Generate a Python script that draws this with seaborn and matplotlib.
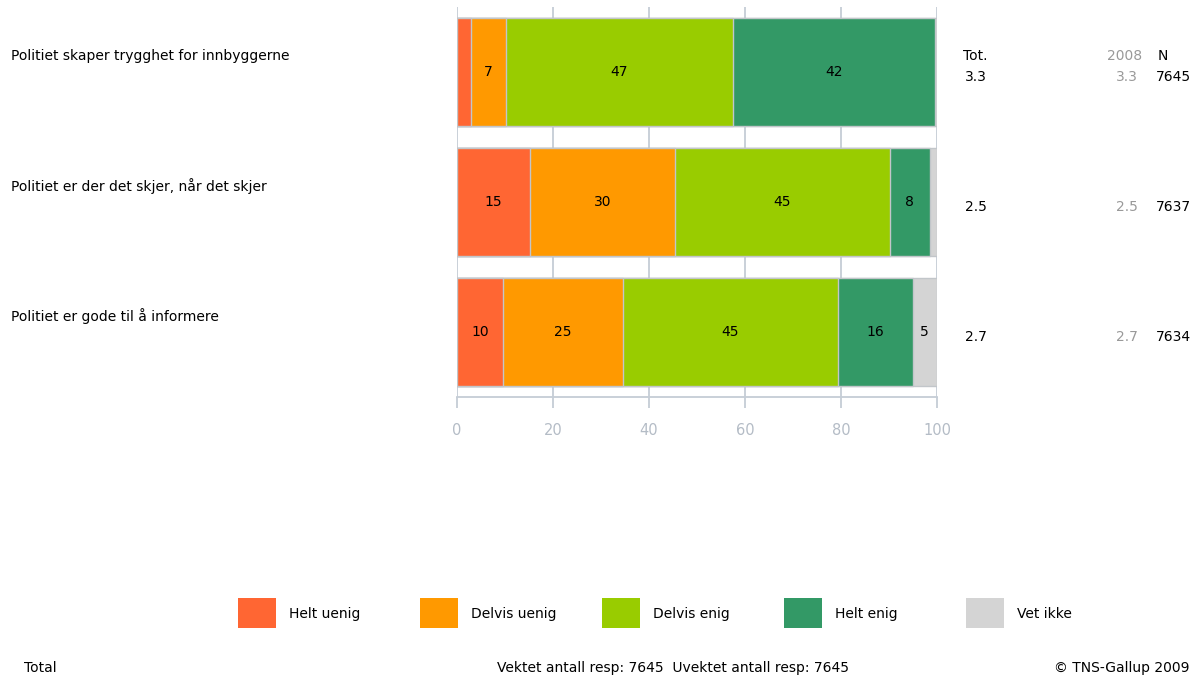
import numpy as np
import pandas as pd
import seaborn as sns
import matplotlib.pyplot as plt
from matplotlib.patches import Rectangle
from matplotlib import transforms

# data
statements = [
    "Politiet skaper trygghet for innbyggerne",
    "Politiet er der det skjer, når det skjer",
    "Politiet er gode til å informere",
]
categories = ["Helt uenig", "Delvis uenig", "Delvis enig", "Helt enig", "Vet ikke"]
helt_uenig = [2.9, 15.2, 9.6]
delvis_uenig = [7.3, 30.2, 25.0]
delvis_enig = [47.3, 44.8, 44.7]
helt_enig = [42.0, 8.3, 15.6]
vet_ikke = [0.5, 1.5, 5.1]
tot = ["3.3", "2.5", "2.7"]
tot_2008 = ["3.3", "2.5", "2.7"]
n_resp = [7645, 7637, 7634]
x_ticks = [0, 20, 40, 60, 80, 100]

colors = ["#ff6633", "#ff9900", "#99cc00", "#339966", "#d4d4d4"]
grid_col = "#c5cdd6"
fs = 10

df = pd.DataFrame({"statement": statements,
                   "Helt uenig": helt_uenig,
                   "Delvis uenig": delvis_uenig,
                   "Delvis enig": delvis_enig,
                   "Helt enig": helt_enig,
                   "Vet ikke": vet_ikke})
cum = df[categories].cumsum(axis=1)

sns.set_style("white")
plt.rcParams["font.family"] = ["DejaVu Sans"]
plt.rcParams["text.color"] = "black"

fig = plt.figure(figsize=(11.99, 6.79), dpi=100)
W, H = 1199, 679
ax = fig.add_axes([457 / W, 1 - 397 / H, 480 / W, 390 / H])

# stacked bars: draw cumulative totals from the back to the front
for cat, col in reversed(list(zip(categories, colors))):
    sns.barplot(x=cum[cat], y=df["statement"], orient="h", color=col,
                saturation=1, width=0.83, edgecolor="#c2c6ca", linewidth=1,
                ax=ax, zorder=2)

# segment labels
for i in range(len(df)):
    for cat in categories:
        v = df.loc[i, cat]
        if v >= 4.5:
            ax.text(cum.loc[i, cat] - v / 2, i, f"{v:.0f}", ha="center",
                    va="center", fontsize=fs, color="black", zorder=3)

ax.set_xlim(0, 100)
ax.set_ylim(2.5, -0.5)
ax.set_xticks(x_ticks)
ax.set_xlabel("")
ax.set_ylabel("")
ax.set_axisbelow(True)
ax.xaxis.grid(True, color=grid_col, lw=1.3)
ax.yaxis.grid(False)
ax.tick_params(axis="y", left=False, labelleft=False)
ax.tick_params(axis="x", bottom=True, length=8, width=1.3, color=grid_col,
               pad=11, labelsize=10.5, labelcolor="#b4bcc6")
for s in ["top", "left", "right"]:
    ax.spines[s].set_visible(False)
ax.spines["bottom"].set_color(grid_col)
ax.spines["bottom"].set_linewidth(1.3)

# statement labels and the numeric columns on the right
tr = transforms.blended_transform_factory(fig.transFigure, ax.transData)
for i, s in enumerate(statements):
    ax.text(11 / W, i - 0.12, s, transform=tr, ha="left", va="center",
            fontsize=fs, color="black")
    ax.text(965 / W, i + 0.04, tot[i], transform=tr, ha="left", va="center",
            fontsize=fs, color="black")
    ax.text(1138 / W, i + 0.04, tot_2008[i], transform=tr, ha="right",
            va="center", fontsize=fs, color="#999999")
    ax.text(1191 / W, i + 0.04, str(n_resp[i]), transform=tr, ha="right",
            va="center", fontsize=fs, color="black")
ax.text(963 / W, -0.12, "Tot.", transform=tr, ha="left", va="center",
        fontsize=fs, color="black")
ax.text(1142 / W, -0.12, "2008", transform=tr, ha="right", va="center",
        fontsize=fs, color="#999999")
ax.text(1163 / W, -0.12, "N", transform=tr, ha="center", va="center",
        fontsize=fs, color="black")

# legend row
for k, (cat, col) in enumerate(zip(categories, colors)):
    x0 = 238 + k * 182
    fig.patches.append(Rectangle((x0 / W, 1 - 628 / H), 38 / W, 30 / H,
                                 transform=fig.transFigure, facecolor=col,
                                 edgecolor="none"))
    fig.text((x0 + 51) / W, 1 - 614 / H, cat, ha="left", va="center",
             fontsize=fs, color="black")

# footer
fig.text(24 / W, 1 - 668 / H, "Total", ha="left", va="center", fontsize=fs)
fig.text(673 / W, 1 - 668 / H,
         "Vektet antall resp: 7645  Uvektet antall resp: 7645",
         ha="center", va="center", fontsize=fs)
fig.text(1189 / W, 1 - 668 / H, "© TNS-Gallup 2009", ha="right",
         va="center", fontsize=fs)

fig.savefig("out.png", dpi=100)
